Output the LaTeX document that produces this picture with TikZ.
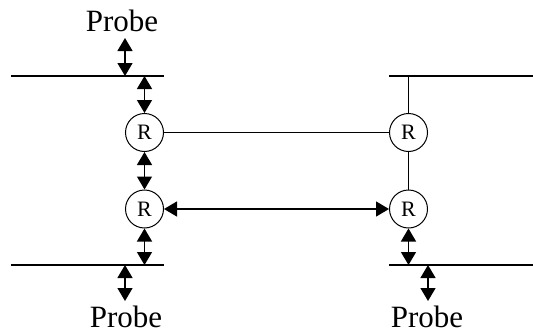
\documentclass[tikz,border=0pt]{standalone}
\usepackage{fontspec}
\setmainfont{Liberation Serif}
\usetikzlibrary{arrows.meta}
\begin{document}
\begin{tikzpicture}[x=1pt,y=-1pt,
  router/.style={circle,draw,line width=1pt,minimum size=38pt,inner sep=0pt,font=\fontsize{22}{22}\selectfont},
  wire/.style={line width=1.4pt},
  dbl/.style={line width=1.4pt,{Triangle[length=13pt,width=15pt]}-{Triangle[length=13pt,width=15pt]}},
  probelabel/.style={anchor=base,inner sep=0pt,font=\fontsize{31}{31}\selectfont}]
\useasboundingbox (0,0) rectangle (533,335);
% LAN segments
\coordinate (tlA) at (11,76);  \coordinate (tlB) at (164,76);
\coordinate (blA) at (11,265); \coordinate (blB) at (164,265);
\coordinate (trA) at (389,76); \coordinate (trB) at (533,76);
\coordinate (brA) at (389,265);\coordinate (brB) at (533,265);
\draw[wire] (tlA) -- (tlB);
\draw[wire] (blA) -- (blB);
\draw[wire] (trA) -- (trB);
\draw[wire] (brA) -- (brB);
% routers
\node[router] (r1) at (144.5,132.5) {R};
\node[router] (r2) at (408.5,132.5) {R};
\node[router] (r3) at (144.5,209) {R};
\node[router] (r4) at (408.5,209) {R};
% attachment points
\coordinate (t1) at (144.5,76);
\coordinate (t2) at (408.5,76);
\coordinate (b3) at (144.5,265);
\coordinate (b4) at (408.5,265);
% probes
\node[probelabel] (p1) at (122,31) {Probe};
\node[probelabel] (p2) at (126,327) {Probe};
\node[probelabel] (p3) at (427,327) {Probe};
\coordinate (p1a) at (125,38);   \coordinate (p1b) at (125,76);
\coordinate (p2a) at (125,265);  \coordinate (p2b) at (125,301);
\coordinate (p3a) at (428,265);  \coordinate (p3b) at (428,301);
\draw[dbl] (p1a) -- (p1b);
\draw[dbl] (p2a) -- (p2b);
\draw[dbl] (p3a) -- (p3b);
% connectors
\draw[dbl] (t1) -- (r1.north);
\draw[dbl] (r1.south) -- (r3.north);
\draw[dbl] (r3.south) -- (b3);
\draw[dbl] (r4.south) -- (b4);
\draw[dbl] (r3.east) -- (r4.west);
\draw[wire] (r1.east) -- (r2.west);
\draw[wire] (r2.north) -- (t2);
\draw[wire] (r2.south) -- (r4.north);
\end{tikzpicture}
\end{document}
